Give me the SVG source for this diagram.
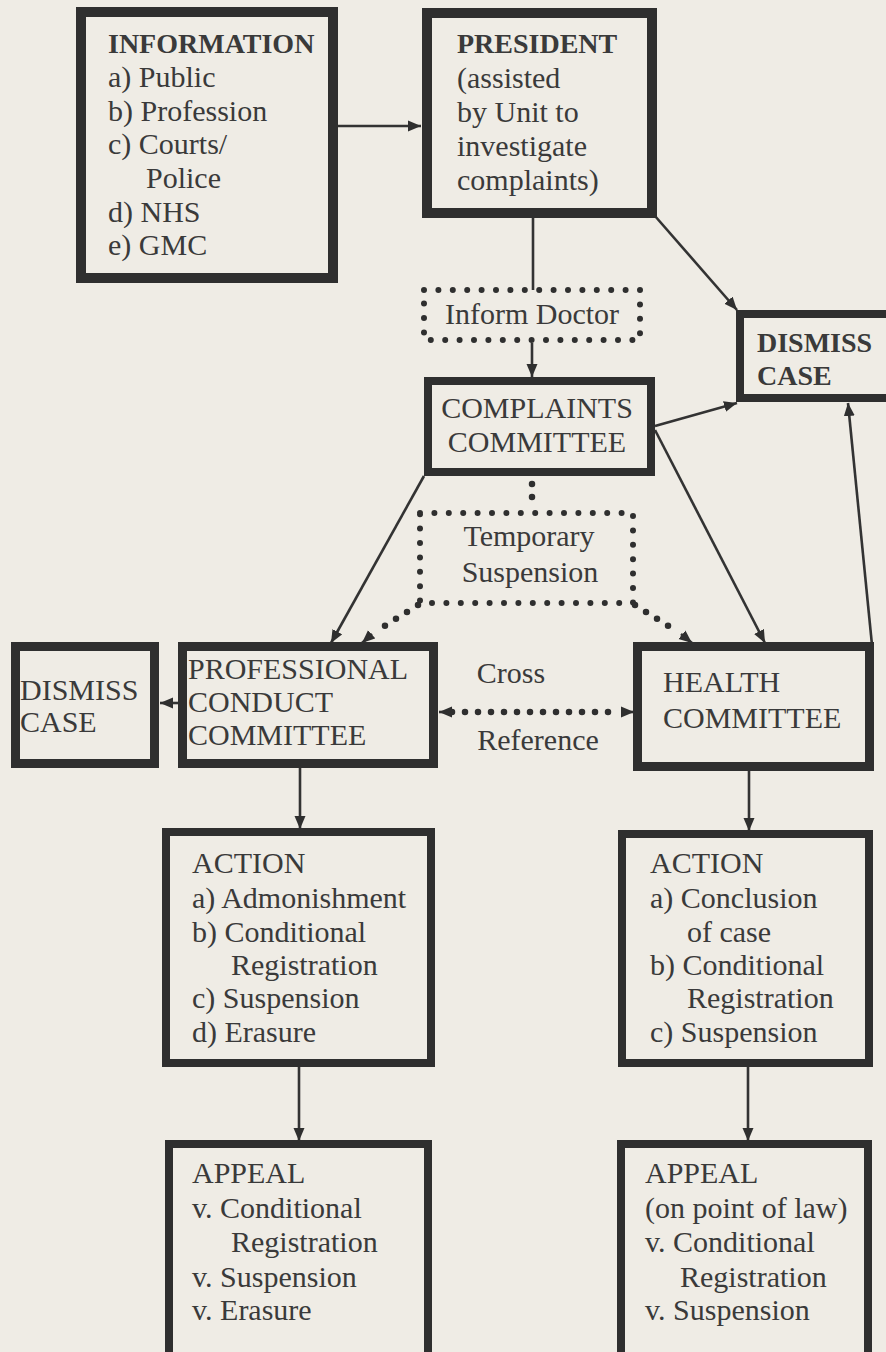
<svg xmlns="http://www.w3.org/2000/svg" width="886" height="1352" viewBox="0 0 886 1352" font-family="'Liberation Serif', 'Times New Roman', 'DejaVu Serif', serif">
<style>
.bx{fill:none;stroke:#2f2f2f;stroke-linejoin:miter}
.dotbox{fill:none;stroke:#2f2f2f;stroke-width:6;stroke-linecap:round;stroke-dasharray:0 14.4}
.ln{fill:none;stroke:#333;stroke-width:2.6}
.dl{fill:none;stroke:#2f2f2f;stroke-width:6.5;stroke-linecap:round;stroke-dasharray:0 13}
text{font-family:'Liberation Serif', 'Times New Roman', 'DejaVu Serif', serif;font-weight:normal;fill:#3a3a3a;font-size:30px}
text.b{font-weight:bold;font-size:28px}
.m{text-anchor:middle}
</style>
<defs>
<marker id="ah" markerUnits="userSpaceOnUse" markerWidth="14" markerHeight="12" refX="13" refY="6" orient="auto">
<path d="M0,0.5 L13,6 L0,11.5 Z" fill="#2f2f2f"/>
</marker>
</defs>
<rect x="0" y="0" width="886" height="1352" fill="#efece5"/>

<g id="connectors">
<line class="ln" x1="338" y1="126" x2="421" y2="126" marker-end="url(#ah)"/>
<line class="ln" x1="533" y1="218" x2="533" y2="290"/>
<line class="ln" x1="655" y1="216" x2="737" y2="310" marker-end="url(#ah)"/>
<line class="ln" x1="532" y1="343" x2="532" y2="377" marker-end="url(#ah)"/>
<line class="ln" x1="655" y1="426" x2="737" y2="403" marker-end="url(#ah)"/>
<line class="ln" x1="655" y1="430" x2="765" y2="643" marker-end="url(#ah)"/>
<line class="ln" x1="424" y1="476" x2="331" y2="643" marker-end="url(#ah)"/>
<line class="ln" x1="872" y1="645" x2="848" y2="403" marker-end="url(#ah)"/>
<line class="dl" x1="532" y1="484" x2="532" y2="500"/>
<path class="dl" d="M418,605 L375,632"/>
<line class="ln" x1="372" y1="634" x2="362" y2="643" marker-end="url(#ah)"/>
<path class="dl" d="M635,605 L678,632"/>
<line class="ln" x1="681" y1="634" x2="692" y2="643" marker-end="url(#ah)"/>
<line class="ln" x1="178" y1="703" x2="160" y2="703" marker-end="url(#ah)"/>
<line class="dl" x1="452" y1="712" x2="620" y2="712"/>
<line class="ln" x1="448" y1="712" x2="439" y2="712" marker-end="url(#ah)"/>
<line class="ln" x1="624" y1="712" x2="634" y2="712" marker-end="url(#ah)"/>
<line class="ln" x1="300" y1="768" x2="300" y2="829" marker-end="url(#ah)"/>
<line class="ln" x1="749" y1="771" x2="749" y2="831" marker-end="url(#ah)"/>
<line class="ln" x1="299" y1="1067" x2="299" y2="1141" marker-end="url(#ah)"/>
<line class="ln" x1="748" y1="1067" x2="748" y2="1141" marker-end="url(#ah)"/>
</g>

<g id="information">
<rect class="bx" x="81" y="12" width="252" height="266" stroke-width="10"/>
<text class="b" x="108" y="53">INFORMATION</text>
<text x="108" y="87">a) Public</text>
<text x="108" y="121">b) Profession</text>
<text x="108" y="154">c) Courts/</text>
<text x="146" y="188">Police</text>
<text x="108" y="222">d) NHS</text>
<text x="108" y="255">e) GMC</text>
</g>

<g id="president">
<rect class="bx" x="427" y="13" width="225" height="200" stroke-width="10"/>
<text class="b" x="457" y="53">PRESIDENT</text>
<text x="457" y="88">(assisted</text>
<text x="457" y="122">by Unit to</text>
<text x="457" y="156">investigate</text>
<text x="457" y="190">complaints)</text>
</g>

<g id="inform-doctor">
<rect class="dotbox" x="424" y="290" width="216" height="50"/>
<text class="m" x="532" y="324">Inform Doctor</text>
</g>

<g id="dismiss-right">
<rect class="bx" x="740" y="314" width="155" height="84" stroke-width="8"/>
<text class="b" x="757" y="352" font-size="27">DISMISS</text>
<text class="b" x="757" y="385" font-size="27">CASE</text>
</g>

<g id="complaints">
<rect class="bx" x="428" y="381" width="223" height="91" stroke-width="8"/>
<text class="m" x="537" y="418">COMPLAINTS</text>
<text class="m" x="537" y="452">COMMITTEE</text>
</g>

<g id="temporary-suspension">
<rect class="dotbox" x="420" y="513" width="213" height="90"/>
<text class="m" x="529" y="546">Temporary</text>
<text class="m" x="530" y="582">Suspension</text>
</g>

<g id="dismiss-left">
<rect class="bx" x="15.5" y="646.5" width="139" height="117" stroke-width="9"/>
<text x="20" y="700">DISMISS</text>
<text x="20" y="732">CASE</text>
</g>

<g id="professional-conduct">
<rect class="bx" x="182.5" y="646.5" width="251" height="117" stroke-width="9"/>
<text x="188" y="679">PROFESSIONAL</text>
<text x="188" y="712">CONDUCT</text>
<text x="188" y="745">COMMITTEE</text>
</g>

<g id="cross-reference">
<text class="m" x="511" y="683">Cross</text>
<text class="m" x="538" y="750">Reference</text>
</g>

<g id="health">
<rect class="bx" x="637.5" y="646.5" width="232" height="120" stroke-width="9"/>
<text x="663" y="692">HEALTH</text>
<text x="663" y="728">COMMITTEE</text>
</g>

<g id="action-left">
<rect class="bx" x="166" y="832" width="265" height="231" stroke-width="8"/>
<text x="192" y="873">ACTION</text>
<text x="192" y="908">a) Admonishment</text>
<text x="192" y="942">b) Conditional</text>
<text x="231" y="975">Registration</text>
<text x="192" y="1008">c) Suspension</text>
<text x="192" y="1042">d) Erasure</text>
</g>

<g id="action-right">
<rect class="bx" x="622" y="834" width="247" height="229" stroke-width="8"/>
<text x="650" y="873">ACTION</text>
<text x="650" y="908">a) Conclusion</text>
<text x="687" y="942">of case</text>
<text x="650" y="975">b) Conditional</text>
<text x="687" y="1008">Registration</text>
<text x="650" y="1042">c) Suspension</text>
</g>

<g id="appeal-left">
<rect class="bx" x="169" y="1144" width="259" height="230" stroke-width="8"/>
<text x="192" y="1183">APPEAL</text>
<text x="192" y="1218">v.  Conditional</text>
<text x="231" y="1252">Registration</text>
<text x="192" y="1287">v.  Suspension</text>
<text x="192" y="1320">v.  Erasure</text>
</g>

<g id="appeal-right">
<rect class="bx" x="621" y="1144" width="247" height="230" stroke-width="8"/>
<text x="645" y="1183">APPEAL</text>
<text x="645" y="1218">(on point of law)</text>
<text x="645" y="1252">v.  Conditional</text>
<text x="680" y="1287">Registration</text>
<text x="645" y="1320">v.  Suspension</text>
</g>
</svg>
